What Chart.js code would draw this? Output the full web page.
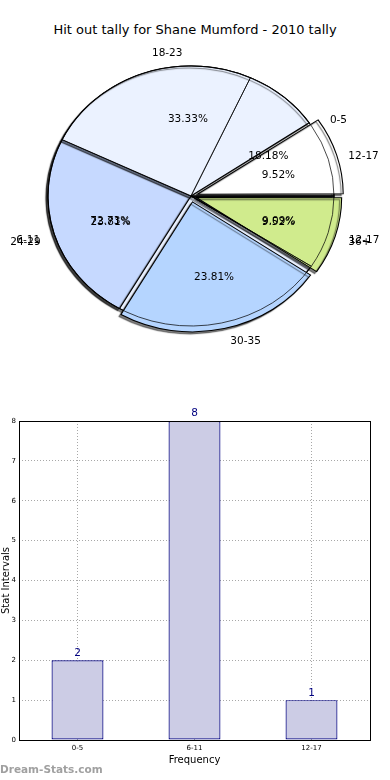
<!DOCTYPE html>
<html>
<head>
<meta charset="utf-8">
<script src="https://cdn.jsdelivr.net/npm/chart.js@4.4.1/dist/chart.umd.min.js"></script>
<style>
  html,body{margin:0;padding:0;background:#fff;width:390px;height:780px;overflow:hidden;font-family:"DejaVu Sans",sans-serif;}
  canvas{position:absolute;left:0;}
  #title{position:absolute;left:0;width:390px;top:22px;text-align:center;font-size:13px;color:#000;}
  #mark{position:absolute;left:0;top:763px;font-size:10.5px;font-weight:bold;color:#a0a0a0;}
</style>
</head>
<body>
<div id="title">Hit out tally for Shane Mumford - 2010 tally</div>
<canvas id="pieB" width="390" height="400" style="top:0"></canvas>
<canvas id="pieA" width="390" height="400" style="top:0"></canvas>
<canvas id="pieBline" width="390" height="400" style="top:0"></canvas>
<canvas id="bar" width="390" height="380" style="top:400px"></canvas>
<div id="mark">Dream-Stats.com</div>
<script>
// ---- data ----
const chartTitle = 'Hit out tally for Shane Mumford - 2010 tally';
const pieACategories = ['12-17', '18-23', '24-29', '30-35', '36+'];
const pieAValues = [2, 7, 5, 5, 2];
const pieAColors = ['#ffffff', '#ebf2ff', '#c6d9ff', '#b5d5ff', '#d0eb8d'];
const pieAExplode = [24, 0, 0, 24, 20];

const pieBCategories = ['0-5', '6-11', '12-17'];
const pieBValues = [2, 8, 1];
const pieBColors = ['#ffffff', '#eaf1ff', '#c6d9ff'];

const barCategories = ['0-5', '6-11', '12-17'];
const barValues = [2, 8, 1];
const yMin = 0, yMax = 8, yStep = 1;

const ASPECT = 1.1; // horizontal stretch of the pie (non-equal axes)
const PIE_R = 130;
const LABEL_CX = 194.5, LABEL_CY = 199, LABEL_R = 133;

function rev(a){ return a.slice().reverse(); }

function makePiePlugin(opts){
  return {
    id: 'pieExtras',
    beforeDatasetsDraw(chart){
      const ctx = chart.ctx, ca = chart.chartArea;
      const cx = (ca.left+ca.right)/2, cy = (ca.top+ca.bottom)/2;
      ctx.save();
      ctx.translate(cx, cy); ctx.scale(ASPECT, 1); ctx.translate(-cx, -cy);
      if (opts.shadow){
        ctx.shadowColor = 'rgba(0,0,0,0.5)';
        ctx.shadowOffsetX = -2; ctx.shadowOffsetY = 2; ctx.shadowBlur = 1;
      }
    },
    afterDatasetsDraw(chart){
      chart.ctx.restore();
      if (!opts.labels) return;
      const ctx = chart.ctx;
      const meta = chart.getDatasetMeta(0);
      const ds = chart.data.datasets[0];
      const labels = chart.data.labels;
      const total = ds.data.reduce((a,b)=>a+b,0);
      ctx.save();
      ctx.fillStyle = '#000';
      ctx.font = '10.5px "DejaVu Sans"';
      ctx.textBaseline = 'middle';
      meta.data.forEach((arc, i) => {
        const mid = (arc.startAngle + arc.endAngle)/2;
        const rx = LABEL_R*ASPECT, ry = LABEL_R;
        const lx = LABEL_CX + 1.1*rx*Math.cos(mid), ly = LABEL_CY + 1.1*ry*Math.sin(mid);
        ctx.textAlign = Math.cos(mid) > 0 ? 'left' : 'right';
        ctx.fillText(labels[i], lx, ly);
        const px = LABEL_CX + 0.6*rx*Math.cos(mid), py = LABEL_CY + 0.6*ry*Math.sin(mid);
        ctx.textAlign = 'center';
        ctx.fillText((ds.data[i]/total*100).toFixed(2) + '%', px, py);
      });
      ctx.restore();
    }
  };
}

function pieConfig(cats, vals, colors, offsets, border, opts){
  return {
    type: 'pie',
    data: {
      labels: rev(cats),
      datasets: [{
        data: rev(vals),
        backgroundColor: rev(colors),
        borderColor: border,
        borderWidth: opts.bw,
        offset: rev(offsets),
        borderJoinStyle: 'miter'
      }]
    },
    options: {
      responsive: false,
      devicePixelRatio: 1,
      animation: false,
      events: [],
      rotation: 90,
      radius: opts.r || PIE_R,
      layout: { padding: { left: 0, right: 8, top: 0, bottom: 8 } },
      plugins: { legend: { display: false }, tooltip: { enabled: false } }
    },
    plugins: [makePiePlugin(opts)]
  };
}

new Chart(document.getElementById('pieB'),
  pieConfig(pieBCategories, pieBValues, pieBColors, [0,0,0], '#000', {bw: 1, shadow: true, labels: false}));
new Chart(document.getElementById('pieA'),
  pieConfig(pieACategories, pieAValues, pieAColors, pieAExplode, '#000', {bw: 1, shadow: true, labels: true}));
new Chart(document.getElementById('pieBline'),
  pieConfig(pieBCategories, pieBValues, ['rgba(0,0,0,0)','rgba(0,0,0,0)','rgba(0,0,0,0)'], [0,0,0], 'rgba(0,0,0,0.85)', {bw: 0.8, shadow: false, labels: true}));

// ---- bar chart ----
const framePlugin = {
  id: 'frame',
  afterDatasetsDraw(chart){
    const ctx = chart.ctx, ca = chart.chartArea;
    ctx.save();
    const meta = chart.getDatasetMeta(0);
    ctx.fillStyle = '#000080';
    ctx.font = '10.5px "DejaVu Sans"';
    ctx.textAlign = 'center';
    ctx.textBaseline = 'bottom';
    meta.data.forEach((bar, i) => {
      ctx.fillText(String(chart.data.datasets[0].data[i]), bar.x, bar.y - 2);
    });
    ctx.strokeStyle = '#000';
    ctx.lineWidth = 1;
    ctx.strokeRect(Math.round(ca.left)+0.5, Math.round(ca.top)+0.5, Math.round(ca.right-ca.left), Math.round(ca.bottom-ca.top));
    ctx.restore();
  }
};

new Chart(document.getElementById('bar'), {
  type: 'bar',
  data: {
    labels: barCategories,
    datasets: [{
      data: barValues,
      backgroundColor: '#ccccE5',
      borderColor: '#000080',
      borderWidth: 1.2,
      borderSkipped: false,
      barPercentage: 0.444,
      categoryPercentage: 1
    }]
  },
  options: {
    responsive: false,
    devicePixelRatio: 1,
    animation: false,
    events: [],
    layout: { padding: { left: 0, right: 20, top: 21, bottom: 14 } },
    plugins: { legend: { display: false }, tooltip: { enabled: false } },
    scales: {
      x: {
        offset: true,
        grid: { offset: false, color: '#a8a8a8', drawTicks: false },
        border: { display: false, dash: [1, 2] },
        ticks: { color: '#000', font: { size: 7, family: '"DejaVu Sans"' }, padding: 4, maxRotation: 0 },
        title: { display: true, text: 'Frequency', color: '#000', font: { size: 10, family: '"DejaVu Sans"' }, padding: { top: 0, bottom: 0 } },
        afterFit(s){ s.height = 26; }
      },
      y: {
        min: yMin, max: yMax,
        grid: { color: '#a8a8a8', drawTicks: false },
        border: { display: false, dash: [1, 2] },
        ticks: { stepSize: yStep, color: '#000', font: { size: 7, family: '"DejaVu Sans"' }, padding: 3 },
        title: { display: true, text: 'Stat Intervals', color: '#000', font: { size: 10, family: '"DejaVu Sans"' }, padding: 0 },
        afterFit(s){ s.width = 19; }
      }
    }
  },
  plugins: [framePlugin]
});
</script>
</body>
</html>
